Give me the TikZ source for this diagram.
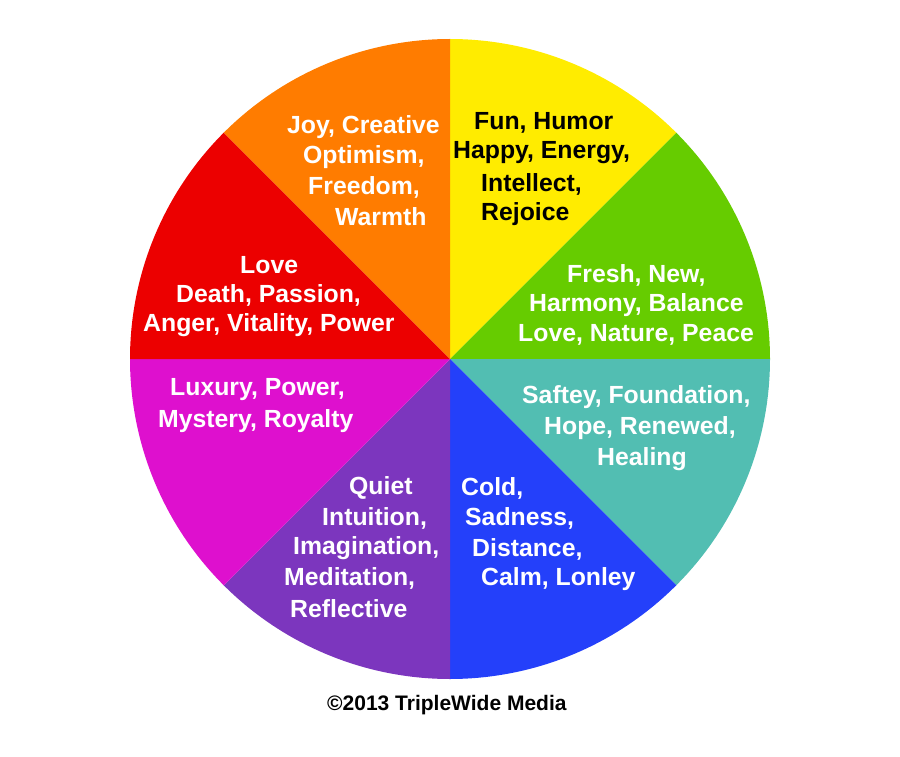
\documentclass[tikz,border=0pt]{standalone}
\usepackage{fontspec}
\setmainfont{Liberation Sans}
\begin{document}
\begin{tikzpicture}[x=1pt,y=-1pt,
  wheeltext/.style={anchor=west,inner sep=0pt,font=\fontsize{24.8}{28}\selectfont\bfseries,text=white},
  darktext/.style={wheeltext,text=black}]
\definecolor{cyellow}{RGB}{255,236,0}
\definecolor{cgreen}{RGB}{102,204,0}
\definecolor{cteal}{RGB}{82,190,178}
\definecolor{cblue}{RGB}{36,64,250}
\definecolor{cpurple}{RGB}{124,54,190}
\definecolor{cmagenta}{RGB}{222,16,206}
\definecolor{cred}{RGB}{236,0,0}
\definecolor{corange}{RGB}{255,124,0}
\useasboundingbox (0,0) rectangle (900,757);
\coordinate (centre) at (450,359);
% sectors
\foreach \a/\c in {-90/cyellow,-45/cgreen,0/cteal,45/cblue,90/cpurple,135/cmagenta,180/cred,225/corange}
  \fill[\c] (centre) -- ++(\a:320) arc[start angle=\a,delta angle=45,radius=320] -- cycle;
% orange
\foreach \x/\y/\t in {287/127/{Joy, Creative},303/157/{Optimism,},308/187/{Freedom,},335/217/{Warmth}}
  \node[wheeltext] at (\x,\y) {\t};
% yellow
\foreach \x/\y/\t in {474/123/{Fun, Humor},453/153/{Happy, Energy,},481/184/{Intellect,},481/214/{Rejoice}}
  \node[darktext] at (\x,\y) {\t};
% green
\foreach \x/\y/\t in {567/275/{Fresh, New,},529/305/{Harmony, Balance},518/335/{Love, Nature, Peace}}
  \node[wheeltext] at (\x,\y) {\t};
% red
\foreach \x/\y/\t in {240/265/{Love},176/295/{Death, Passion,},143/325/{Anger, Vitality, Power}}
  \node[wheeltext] at (\x,\y) {\t};
% magenta
\foreach \x/\y/\t in {170/390/{Luxury, Power,},158/421/{Mystery, Royalty}}
  \node[wheeltext] at (\x,\y) {\t};
% teal
\foreach \x/\y/\t in {522/397/{Saftey, Foundation,},544/428/{Hope, Renewed,},597/459/{Healing}}
  \node[wheeltext] at (\x,\y) {\t};
% purple
\foreach \x/\y/\t in {349/488/{Quiet},322/518/{Intuition,},293/548/{Imagination,},284/578/{Meditation,},290/609/{Reflective}}
  \node[wheeltext] at (\x,\y) {\t};
% blue
\foreach \x/\y/\t in {461/488/{Cold,},465/518/{Sadness,},472/549/{Distance,},481/579/{Calm, Lonley}}
  \node[wheeltext] at (\x,\y) {\t};
\node[anchor=west,inner sep=0pt,font=\fontsize{21}{24}\selectfont\bfseries] (credit) at (327,705) {©2013 TripleWide Media};
\end{tikzpicture}
\end{document}
